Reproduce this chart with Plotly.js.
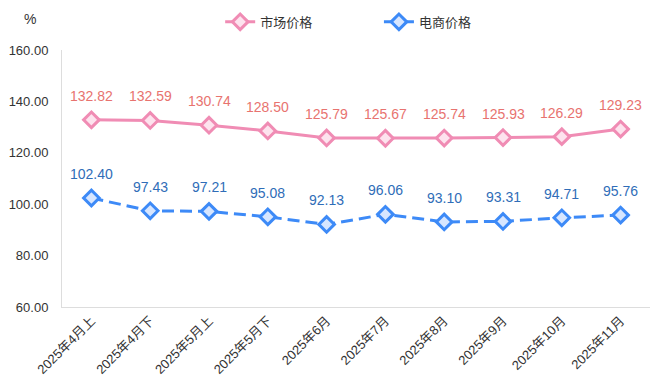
<!DOCTYPE html>
<html>
<head>
<meta charset="utf-8">
<script src="https://cdn.plot.ly/plotly-3.0.1.min.js"></script>
<style>html,body{margin:0;padding:0;background:#fff;}#chart{width:662px;height:391px;}</style>
</head>
<body>
<div id="chart"></div>
<script>
const categories = ["2025年4月上","2025年4月下","2025年5月上","2025年5月下","2025年6月","2025年7月","2025年8月","2025年9月","2025年10月","2025年11月"];
const marketPrice = [132.82,132.59,130.74,128.50,125.79,125.67,125.74,125.93,126.29,129.23];
const ecomPrice = [102.40,97.43,97.21,95.08,92.13,96.06,93.10,93.31,94.71,95.76];
const yTicks = [60,80,100,120,140,160];
const seriesNames = ["市场价格","电商价格"];

const FONT = '"Liberation Sans", Arial, "Noto Sans CJK SC", sans-serif';
const pink = '#f08cb4', pinkFill = '#fde3ee', pinkText = '#e8736f';
const blue = '#3d8af7', blueFill = '#d7e6ff', blueText = '#2f6db8';

const traces = [
  {x: categories, y: marketPrice, name: seriesNames[0], type: 'scatter', mode: 'lines+markers',
   legend: 'legend',
   line: {color: pink, width: 3},
   marker: {symbol: 'diamond', size: 12, color: pinkFill, line: {color: pink, width: 3}}},
  {x: categories, y: ecomPrice, name: seriesNames[1], type: 'scatter', mode: 'lines+markers',
   legend: 'legend2',
   line: {color: blue, width: 3, dash: '12px,6px'},
   marker: {symbol: 'diamond', size: 12, color: blueFill, line: {color: blue, width: 3}}}
];

const annotations = [];
categories.forEach((c, i) => {
  annotations.push({x: c, y: marketPrice[i], xref: 'x', yref: 'y', text: marketPrice[i].toFixed(2),
    showarrow: false, yshift: 24, font: {family: FONT, size: 14, color: pinkText}});
  annotations.push({x: c, y: ecomPrice[i], xref: 'x', yref: 'y', text: ecomPrice[i].toFixed(2),
    showarrow: false, yshift: 24, font: {family: FONT, size: 14, color: blueText}});
});
annotations.push({xref: 'paper', yref: 'paper', x: -0.055, y: 1.12, xanchor: 'center', yanchor: 'middle',
  text: '%', showarrow: false, font: {family: FONT, size: 14, color: '#333'}});

const legendFont = {family: FONT, size: 13, color: '#333'};
const layout = {
  width: 662, height: 391,
  margin: {l: 62, r: 12, t: 50, b: 84},
  paper_bgcolor: '#fff', plot_bgcolor: '#fff',
  font: {family: FONT, size: 12, color: '#333'},
  showlegend: true,
  legend: {orientation: 'h', x: 0.269, xanchor: 'left', yref: 'container', y: 0.944, yanchor: 'middle',
    font: legendFont, itemwidth: 30},
  legend2: {orientation: 'h', x: 0.539, xanchor: 'left', yref: 'container', y: 0.944, yanchor: 'middle',
    font: legendFont, itemwidth: 30},
  xaxis: {type: 'category', tickangle: -45, showgrid: false, zeroline: false,
    showline: true, linecolor: '#ddd', linewidth: 1, ticks: '',
    tickfont: {family: FONT, size: 13, color: '#333'}, range: [-0.5, categories.length - 0.5]},
  yaxis: {range: [60, 160], tickvals: yTicks, ticktext: yTicks.map(v => v.toFixed(2)),
    showgrid: false, zeroline: false, showline: true, linecolor: '#ddd', linewidth: 1,
    ticks: '', ticklabelstandoff: 10,
    tickfont: {family: FONT, size: 13, color: '#333'}},
  annotations: annotations
};

Plotly.newPlot('chart', traces, layout, {displayModeBar: false, staticPlot: true});
</script>
</body>
</html>
